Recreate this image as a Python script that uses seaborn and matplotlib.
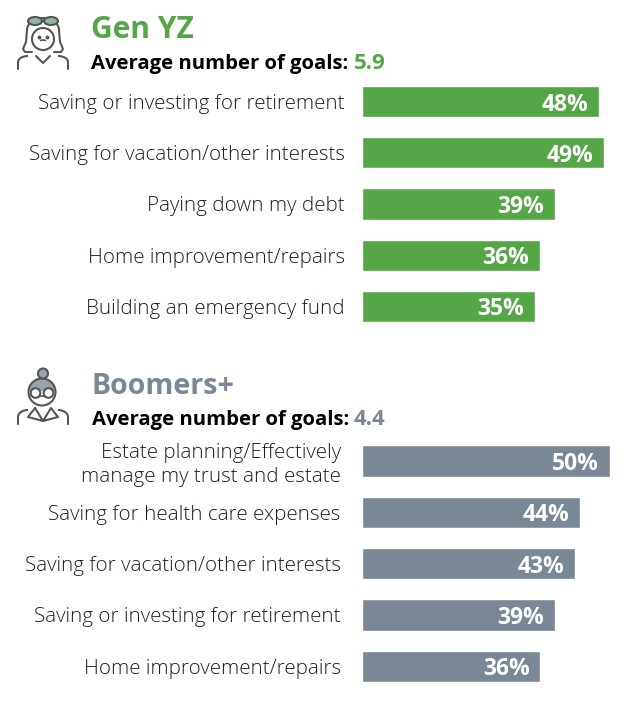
import matplotlib
matplotlib.use("Agg")
import matplotlib.pyplot as plt
import seaborn as sns
import pandas as pd
from matplotlib.patches import Circle, Ellipse, Arc, Wedge

W, H = 637, 705
GREEN = "#54A647"
GRAY = "#7A8794"
ICON = "#555555"

genyz_goals = ["Saving or investing for retirement", "Saving for vacation/other interests",
               "Paying down my debt", "Home improvement/repairs", "Building an emergency fund"]
genyz_values = [48, 49, 39, 36, 35]
boomer_goals = ["Estate planning/Effectively\nmanage my trust and estate", "Saving for health care expenses",
                "Saving for vacation/other interests", "Saving or investing for retirement",
                "Home improvement/repairs"]
boomer_values = [50, 44, 43, 39, 36]

sns.set_theme(style="white")
plt.rcParams["font.family"] = ["Open Sans", "DejaVu Sans"]

fig = plt.figure(figsize=(W / 100, H / 100), dpi=100, facecolor="white")


def px_axes(x0, y0, x1, y1):
    return fig.add_axes([x0 / W, 1 - y1 / H, (x1 - x0) / W, (y1 - y0) / H])


def panel(x0, top, bottom, goals, values, color, pad, scale):
    ax = px_axes(x0, top, W, bottom)
    df = pd.DataFrame({"goal": goals, "value": values})
    sns.barplot(data=df, y="goal", x="value", color=color, width=0.61, saturation=1, ax=ax)
    ax.set_xlim(0, (W - x0) / scale)
    ax.set_xlabel("")
    ax.set_ylabel("")
    ax.xaxis.set_visible(False)
    sns.despine(ax=ax, left=True, bottom=True, top=True, right=True)
    ax.patch.set_alpha(0)
    ax.tick_params(axis="y", length=0, pad=pad, labelsize=14.8, labelcolor="#261C1E")
    for lab in ax.get_yticklabels():
        lab.set_linespacing(1.22)
        lab.set_multialignment("right")
        lab.set_fontweight(300)
    for p, v in zip(ax.patches, values):
        ax.annotate(f"{v}%", (v, p.get_y() + p.get_height() / 2), xytext=(-7.7, 0),
                    textcoords="offset points", ha="right", va="center_baseline",
                    color="white", fontsize=16.5, fontweight="bold")
    return ax


panel(361.8, 76, 332, genyz_goals, genyz_values, GREEN, 12.3, 4.948)
panel(362, 435.3, 692, boomer_goals, boomer_values, GRAY, 15.3, 4.95)


def header(x, y_title, y_sub, title, avg, color, tsize):
    fig.text(x / W, 1 - y_title / H, title, color=color, fontsize=tsize, fontweight="bold", va="baseline")
    t = fig.text(x / W, 1 - y_sub / H, "Average number of goals: ", color="black", fontsize=14.6,
                 fontweight="bold", va="baseline")
    r = fig.canvas.get_renderer()
    bb = t.get_window_extent(r)
    fig.text(bb.x1 / W, 1 - y_sub / H, avg, color=color, fontsize=16, fontweight="bold", va="baseline")


header(91, 38, 69, "Gen YZ", "5.9", GREEN, 21.5)
header(91.5, 394, 425, "Boomers+", "4.4", GRAY, 20.5)

# person icons, drawn in pixel space
ic = fig.add_axes([0, 0, 1, 1], zorder=5)
ic.set_xlim(0, W)
ic.set_ylim(H, 0)
ic.axis("off")
lw = 1.5


def shoulders(cy, top):
    ic.plot([18, 18], [cy, cy - 7], color=ICON, lw=lw)
    ic.plot([68, 68], [cy, cy - 7], color=ICON, lw=lw)
    ic.add_patch(Arc((28, cy - 7), 20, 2 * (cy - 7 - top), theta1=180, theta2=270, color=ICON, lw=lw))
    ic.add_patch(Arc((58, cy - 7), 20, 2 * (cy - 7 - top), theta1=270, theta2=360, color=ICON, lw=lw))


# Gen YZ
shoulders(69, 56)
ic.add_patch(Circle((43, 39), 11, fc="none", ec=ICON, lw=lw))
ic.plot([27, 26, 23, 25, 32], [30, 42, 49, 52, 52], color=ICON, lw=lw)
ic.plot([59, 60, 63, 61, 54], [30, 42, 49, 52, 52], color=ICON, lw=lw)
ic.add_patch(Arc((43, 30), 32, 24, theta1=180, theta2=360, color=ICON, lw=lw))
ic.add_patch(Ellipse((35, 21), 14, 8, fc="#8CB89A", ec=ICON, lw=lw))
ic.add_patch(Ellipse((51, 21), 14, 8, fc="#8CB89A", ec=ICON, lw=lw))
ic.plot([36, 43, 50], [56, 63, 56], color=ICON, lw=lw)
ic.add_patch(Arc((43, 42), 7, 4, theta1=200, theta2=340, color=ICON, lw=1.2))
ic.plot([39, 47], [37, 37], "o", ms=1.8, color=ICON)

# Boomers+
shoulders(424, 410)
ic.add_patch(Wedge((42, 391), 13, 180, 360, fc="#9AA3AB", ec="none"))
ic.add_patch(Circle((42, 392), 13.5, fc="none", ec=ICON, lw=lw))
ic.add_patch(Circle((43, 373.5), 5, fc="#9AA3AB", ec=ICON, lw=lw))
ic.add_patch(Circle((35.5, 393), 4.8, fc="white", ec=ICON, lw=lw))
ic.add_patch(Circle((48.5, 393), 4.8, fc="white", ec=ICON, lw=lw))
ic.add_patch(Arc((42, 399), 10, 6, theta1=200, theta2=340, color=ICON, lw=1.2))
ic.plot([35, 28, 43, 58, 51, 43, 35], [408, 417, 421, 417, 408, 421, 408], color=ICON, lw=lw)

fig.savefig("out.png", dpi=100, facecolor="white")
